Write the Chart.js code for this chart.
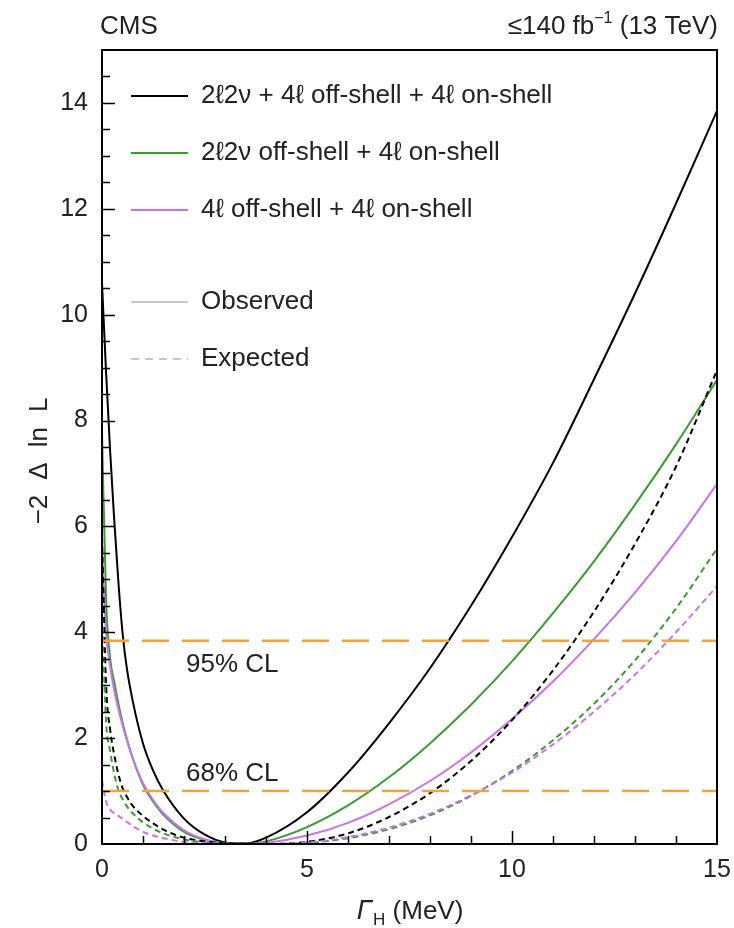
<!DOCTYPE html>
<html>
<head>
<meta charset="utf-8">
<script src="https://cdn.jsdelivr.net/npm/chart.js@4.4.1/dist/chart.umd.min.js"></script>
<style>
  html, body { margin: 0; padding: 0; background: #fff; }
  #wrap { width: 734px; height: 928px; }
</style>
</head>
<body>
<div id="wrap"><canvas id="c" width="734" height="928"></canvas></div>
<script>
// Higgs width scan points, Γ_H in MeV
const widthMeV = [0, 0.1, 0.2, 0.3, 0.4, 0.5, 0.6, 0.75, 1, 1.25, 1.5, 2, 2.5, 3, 3.5, 4, 5, 6, 7, 8, 9, 10, 11, 12, 13, 14, 15];

// -2 Δ ln L, observed
const obsAll   = [10.6, 8.9, 7.4, 6.1, 4.95, 4.0, 3.35, 2.7, 1.9, 1.38, 1.0, 0.48, 0.18, 0.03, 0.01, 0.12, 0.6, 1.35, 2.28, 3.32, 4.5, 5.8, 7.2, 8.78, 10.4, 12.1, 13.85];
const obs2l2nu = [7.8, 4.6, 3.5, 3.05, 2.65, 2.3, 2.0, 1.62, 1.12, 0.8, 0.55, 0.23, 0.08, 0.015, 0.0, 0.05, 0.32, 0.73, 1.26, 1.9, 2.63, 3.45, 4.36, 5.34, 6.41, 7.55, 8.77];
const obs4l    = [5.6, 4.0, 3.35, 2.9, 2.55, 2.25, 1.98, 1.62, 1.15, 0.83, 0.58, 0.26, 0.09, 0.015, 0.0, 0.02, 0.16, 0.4, 0.75, 1.19, 1.73, 2.36, 3.07, 3.87, 4.75, 5.72, 6.8];

// -2 Δ ln L, expected
const expAll   = [5.8, 3.0, 2.15, 1.68, 1.32, 1.06, 0.9, 0.72, 0.53, 0.39, 0.27, 0.12, 0.05, 0.02, 0.005, 0.0, 0.04, 0.2, 0.51, 0.96, 1.57, 2.34, 3.28, 4.39, 5.67, 7.13, 8.95];
const exp2l2nu = [4.3, 2.3, 1.75, 1.32, 1.02, 0.85, 0.72, 0.58, 0.41, 0.29, 0.2, 0.085, 0.03, 0.01, 0.003, 0.0, 0.02, 0.11, 0.28, 0.54, 0.91, 1.38, 1.96, 2.65, 3.47, 4.45, 5.58];
const exp4l    = [1.2, 0.8, 0.65, 0.58, 0.53, 0.48, 0.42, 0.34, 0.23, 0.16, 0.11, 0.04, 0.015, 0.005, 0.001, 0.0, 0.027, 0.13, 0.31, 0.57, 0.92, 1.35, 1.88, 2.5, 3.2, 4.0, 4.87];

// Confidence-level thresholds
const clLevels = [3.84, 1.0];
const clLabels = ['95% CL', '68% CL'];

// Axis ticks
const xTickValues = [0, 5, 10, 15];
const yTickValues = [0, 2, 4, 6, 8, 10, 12, 14];

// Legend entries
const comboLabels = ['2\u21132\u03BD + 4\u2113 off-shell + 4\u2113 on-shell', '2\u21132\u03BD off-shell + 4\u2113 on-shell', '4\u2113 off-shell + 4\u2113 on-shell'];
const styleLabels = ['Observed', 'Expected'];

const FONT = '"Liberation Sans", Arial, Helvetica, sans-serif';
const BLACK = '#000000', GREEN = '#3c9a32', VIOLET = '#c873ea', ORANGE = '#f3a23c';
const comboColors = [BLACK, GREEN, VIOLET];

const pts = arr => widthMeV.map((x, i) => ({ x, y: arr[i] }));
const curve = (arr, color, dashed) => ({
  data: pts(arr), borderColor: color, borderWidth: 2,
  borderDash: dashed ? [6, 4] : [], pointRadius: 0, fill: false,
  cubicInterpolationMode: 'monotone'
});
const clLine = level => ({
  data: [{ x: 0, y: level }, { x: 15, y: level }], borderColor: ORANGE, borderWidth: 2.5,
  borderDash: [27, 13], pointRadius: 0, fill: false
});

const decor = {
  id: 'decor',
  afterDatasetsDraw(chart) {
    const { ctx, chartArea: a, scales: { x, y } } = chart;
    ctx.save();
    ctx.strokeStyle = '#000';
    ctx.lineWidth = 1.5;
    // inner tick marks on the left axis
    for (let v = 0.5; v < 15; v += 0.5) {
      const py = Math.round(y.getPixelForValue(v)) + 0.5;
      const len = (v % 2 === 0) ? 13 : 8;
      ctx.beginPath(); ctx.moveTo(a.left, py); ctx.lineTo(a.left + len, py); ctx.stroke();
    }
    // inner tick marks on the bottom axis
    for (let v = 1; v < 15; v += 1) {
      const px = Math.round(x.getPixelForValue(v)) + 0.5;
      const len = (v % 5 === 0) ? 13 : 8;
      ctx.beginPath(); ctx.moveTo(px, a.bottom); ctx.lineTo(px, a.bottom - len); ctx.stroke();
    }
    // frame
    ctx.lineWidth = 2;
    ctx.strokeRect(a.left, a.top, a.right - a.left, a.bottom - a.top);

    // CL labels
    ctx.fillStyle = '#222';
    ctx.font = '26px ' + FONT;
    ctx.textBaseline = 'middle';
    ctx.textAlign = 'left';
    const labelX = x.getPixelForValue(2.05);
    ctx.fillText(clLabels[0], labelX, y.getPixelForValue(clLevels[0]) + 24);
    ctx.fillText(clLabels[1], labelX, y.getPixelForValue(clLevels[1]) - 17);
    ctx.restore();
  },
  afterDraw(chart) {
    const { ctx, chartArea: a } = chart;
    ctx.save();
    ctx.fillStyle = '#222';
    ctx.textBaseline = 'middle';

    // legend
    const lx0 = 131, lx1 = 188, tx = 201;
    const rows = [96, 153, 210];
    ctx.font = '26px ' + FONT;
    ctx.textAlign = 'left';
    rows.forEach((ry, i) => {
      ctx.strokeStyle = comboColors[i]; ctx.lineWidth = 2; ctx.setLineDash([]);
      ctx.beginPath(); ctx.moveTo(lx0, ry); ctx.lineTo(lx1, ry); ctx.stroke();
      ctx.fillText(comboLabels[i], tx, ry);
    });
    const srows = [302, 359];
    ctx.strokeStyle = '#c8c8c8'; ctx.lineWidth = 2;
    ctx.setLineDash([]);
    ctx.beginPath(); ctx.moveTo(lx0, srows[0]); ctx.lineTo(lx1, srows[0]); ctx.stroke();
    ctx.fillText(styleLabels[0], tx, srows[0]);
    ctx.setLineDash([8, 6]);
    ctx.beginPath(); ctx.moveTo(lx0, srows[1]); ctx.lineTo(lx1, srows[1]); ctx.stroke();
    ctx.setLineDash([]);
    ctx.fillText(styleLabels[1], tx, srows[1]);

    // header
    const hFont = '26px ' + FONT;
    ctx.font = hFont;
    ctx.textBaseline = 'alphabetic';
    ctx.textAlign = 'left';
    ctx.fillText('CMS', 100, 34);
    const partA = '\u2264140 fb', partB = '\u22121', partC = ' (13 TeV)';
    const supFont = '16px ' + FONT;
    const wA = ctx.measureText(partA).width;
    const wC = ctx.measureText(partC).width;
    ctx.font = supFont;
    const wB = ctx.measureText(partB).width;
    let hx = 718 - (wA + wB + wC);
    ctx.font = hFont;
    ctx.fillText(partA, hx, 34); hx += wA;
    ctx.font = supFont;
    ctx.fillText(partB, hx, 23); hx += wB;
    ctx.font = hFont;
    ctx.fillText(partC, hx, 34);

    // y-axis title, pieces spaced along the rotated baseline
    ctx.save();
    ctx.translate(40, 461);
    ctx.rotate(-Math.PI / 2);
    ctx.textAlign = 'left';
    ctx.textBaseline = 'middle';
    ctx.font = '26px ' + FONT;
    const pieces = ['\u22122', '\u0394', 'ln', 'L'];
    const gap = 15;
    const widths = pieces.map(p => ctx.measureText(p).width);
    const total = widths.reduce((s, w) => s + w, 0) + gap * (pieces.length - 1);
    let px = -total / 2;
    pieces.forEach((p, i) => { ctx.fillText(p, px, 0); px += widths[i] + gap; });
    ctx.restore();

    // x-axis title: Γ_H (MeV)
    const gFont = 'italic 27px ' + FONT, subFont = '17px ' + FONT, mFont = '26px ' + FONT;
    ctx.font = gFont; const wG = ctx.measureText('\u0393').width;
    ctx.font = subFont; const wH = ctx.measureText('H').width;
    ctx.font = mFont; const wM = ctx.measureText(' (MeV)').width;
    let bx = (a.left + a.right) / 2 - (wG + wH + wM) / 2;
    const by = 919;
    ctx.textAlign = 'left';
    ctx.font = gFont; ctx.fillText('\u0393', bx, by); bx += wG + 1;
    ctx.font = subFont; ctx.fillText('H', bx, by + 6); bx += wH;
    ctx.font = mFont; ctx.fillText(' (MeV)', bx, by);
    ctx.restore();
  }
};

new Chart(document.getElementById('c'), {
  type: 'line',
  data: {
    datasets: [
      clLine(clLevels[0]),
      clLine(clLevels[1]),
      curve(exp4l, VIOLET, true),
      curve(exp2l2nu, GREEN, true),
      curve(expAll, BLACK, true),
      curve(obs4l, VIOLET, false),
      curve(obs2l2nu, GREEN, false),
      curve(obsAll, BLACK, false)
    ]
  },
  options: {
    responsive: false,
    animation: false,
    devicePixelRatio: 1,
    layout: { padding: { left: 0, right: 17, top: 50, bottom: 0 } },
    plugins: { legend: { display: false }, tooltip: { enabled: false } },
    scales: {
      x: {
        type: 'linear', min: 0, max: 15,
        grid: { display: false, drawTicks: false },
        border: { display: false },
        afterBuildTicks: s => { s.ticks = xTickValues.map(v => ({ value: v })); },
        afterFit: s => { s.height = 84; s.paddingLeft = 0; s.paddingRight = 0; },
        ticks: { font: { family: FONT, size: 25 }, color: '#222', padding: 11, maxRotation: 0, autoSkip: false }
      },
      y: {
        type: 'linear', min: 0, max: 15,
        grid: { display: false, drawTicks: false },
        border: { display: false },
        afterBuildTicks: s => { s.ticks = yTickValues.map(v => ({ value: v })); },
        afterFit: s => { s.width = 102; s.paddingTop = 0; s.paddingBottom = 0; },
        ticks: { font: { family: FONT, size: 25 }, color: '#222', padding: 14, autoSkip: false }
      }
    }
  },
  plugins: [decor]
});
</script>
</body>
</html>
